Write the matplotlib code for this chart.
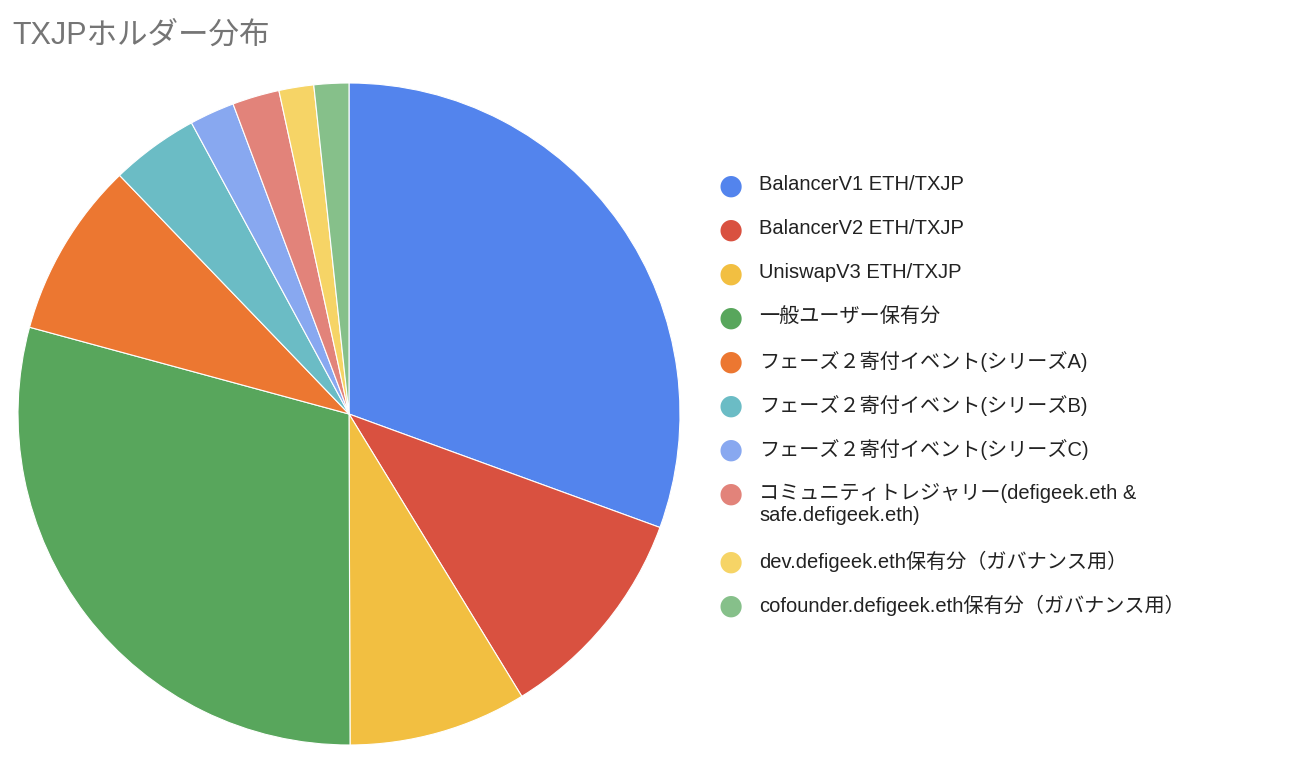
import matplotlib.pyplot as plt

plt.rcParams['font.family'] = ['Liberation Sans', 'Noto Sans CJK JP', 'DejaVu Sans']

labels = [
    "BalancerV1 ETH/TXJP",
    "BalancerV2 ETH/TXJP",
    "UniswapV3 ETH/TXJP",
    "一般ユーザー保有分",
    "フェーズ２寄付イベント(シリーズA)",
    "フェーズ２寄付イベント(シリーズB)",
    "フェーズ２寄付イベント(シリーズC)",
    "コミュニティトレジャリー(defigeek.eth &\nsafe.defigeek.eth)",
    "dev.defigeek.eth保有分（ガバナンス用）",
    "cofounder.defigeek.eth保有分（ガバナンス用）",
]
values = [30.6, 10.7, 8.7, 29.3, 8.6, 4.3, 2.2, 2.3, 1.7, 1.7]
colors = ["#5384ed", "#d95140", "#f2bf41", "#58a65c", "#ec7731",
          "#6bbcc5", "#88a8f0", "#e2837a", "#f6d466", "#86c08a"]

W, H = 1296, 776
fig = plt.figure(figsize=(W / 100, H / 100), dpi=100)

r = 331
cx, cy = 349, 414
ax = fig.add_axes([(cx - r) / W, 1 - (cy + r) / H, 2 * r / W, 2 * r / H])
ax.pie(values, colors=colors, startangle=90, counterclock=False, radius=1,
       wedgeprops=dict(edgecolor="white", linewidth=0.8))
ax.set_xlim(-1, 1)
ax.set_ylim(-1, 1)
ax.set_aspect("equal")

fig.text(12 / W, 1 - 36 / H, "TXJPホルダー分布", fontsize=22, color="#757575",
         va="center", ha="left")

# legend
y = 186
for lab, col in zip(labels, colors):
    fig.text(731 / W, 1 - y / H, "●", color=col, fontsize=20, ha="center", va="center",
             family=["DejaVu Sans"])
    fig.text(759 / W, 1 - (y - 11) / H, lab, fontsize=14.5, color="#222222",
             ha="left", va="top", linespacing=1.2)
    y += 44 + (24 * lab.count("\n"))

fig.savefig("out.png", dpi=100)
